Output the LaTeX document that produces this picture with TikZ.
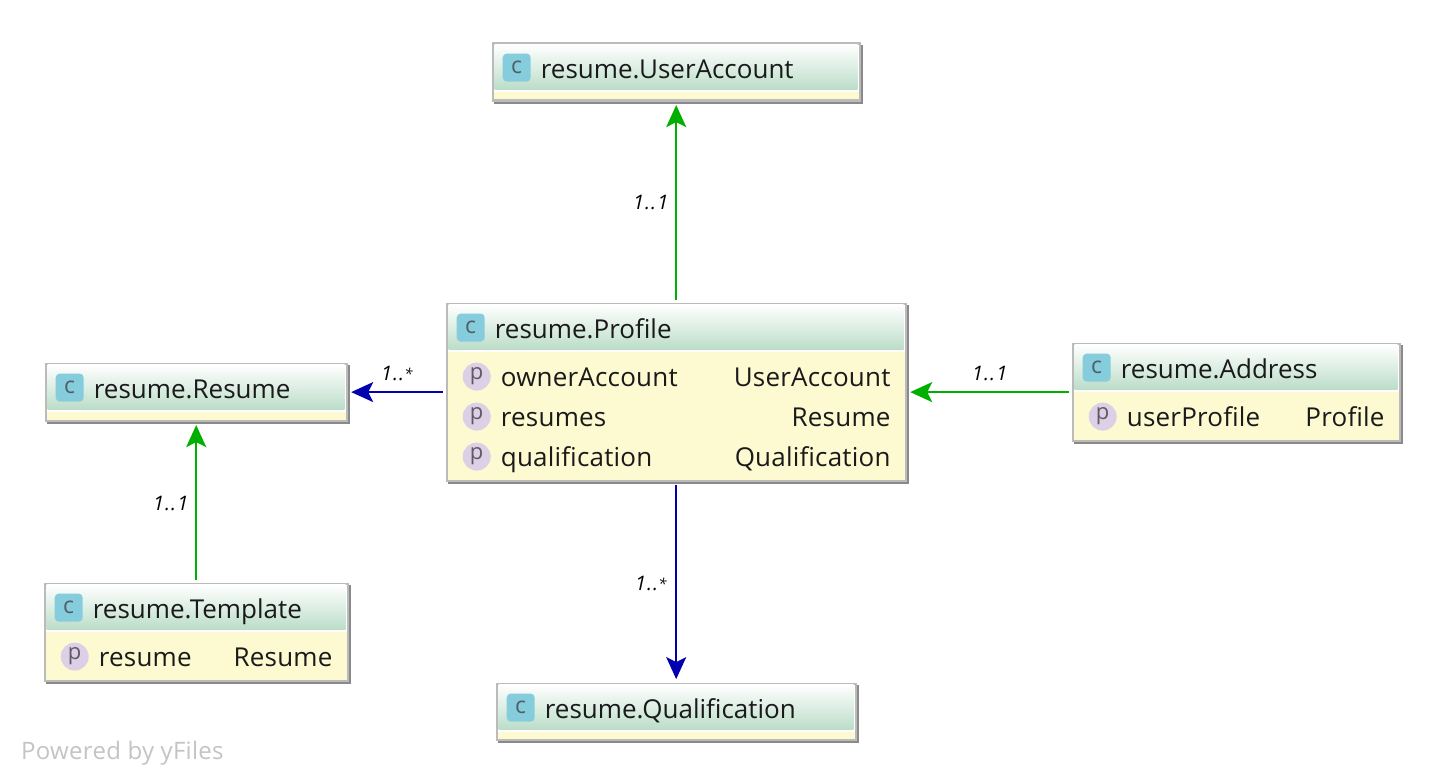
\documentclass[tikz,border=0pt]{standalone}
\usepackage{fontspec}
\setmainfont{Open Sans}
\newfontfamily\rowfont{Open Sans}[LetterSpace=0.8]
\newfontfamily\markfont{Open Sans}[LetterSpace=1.2]
\newfontfamily\multfont{Open Sans}[LetterSpace=5,ItalicFont={Open Sans Italic}]
\usetikzlibrary{arrows.meta}
\definecolor{framegray}{HTML}{BBBBBB}
\definecolor{shadowgray}{HTML}{8A8A8A}
\definecolor{headgreen}{HTML}{BBDDC8}
\definecolor{bodyyellow}{HTML}{FDFAD2}
\definecolor{iconblue}{HTML}{85CDDC}
\definecolor{iconink}{HTML}{4F5F68}
\definecolor{propviolet}{HTML}{DCCFE6}
\definecolor{propink}{HTML}{5E5A66}
\definecolor{textink}{HTML}{1A1A1A}
\definecolor{assocgreen}{HTML}{00B000}
\definecolor{assocblue}{HTML}{0000B0}
\definecolor{markgray}{HTML}{C4C4C4}
\tikzset{
  framebox/.style={draw=framegray,line width=2.2pt,inner sep=0pt,outer sep=0pt},
  titletext/.style={font=\fontsize{26}{26}\selectfont,text=textink,anchor=base west,inner sep=0pt},
  rowtext/.style={font=\rowfont\fontsize{26}{26}\selectfont,text=textink,anchor=base west,inner sep=0pt},
  typetext/.style={font=\rowfont\fontsize{26}{26}\selectfont,text=textink,anchor=base east,inner sep=0pt},
  classicon/.style={fill=iconblue,rounded corners=4pt,minimum size=28pt,inner sep=0pt,text=iconink,font=\fontsize{23}{23}\selectfont},
  propicon/.style={circle,fill=propviolet,minimum size=28pt,inner sep=0pt,text=propink,font=\fontsize{22}{22}\selectfont},
  greenlink/.style={draw=assocgreen,line width=2pt,-{Stealth[length=22pt,width=20pt,inset=5pt]},shorten <=4pt,shorten >=4.5pt},
  bluelink/.style={draw=assocblue,line width=2pt,-{Stealth[length=22pt,width=20pt,inset=5pt]},shorten <=4pt,shorten >=4.5pt},
  multlabel/.style={font=\multfont\fontsize{20}{20}\selectfont\itshape,text=black,inner sep=0pt,anchor=base west},
}
% name, x1, y1, x2, y2, title
\newcommand{\umlbox}[6]{%
  \pgfmathsetmacro{\bw}{#4-#2-2}%
  \pgfmathsetmacro{\bh}{#5-#3-2}%
  \pgfmathsetmacro{\cx}{(#2+#4)/2}%
  \pgfmathsetmacro{\cy}{(#3+#5)/2}%
  \fill[shadowgray] (#2+2,#3+2) rectangle (#4+2,#5+2);
  \node[framebox,fill=bodyyellow,minimum width=\bw pt,minimum height=\bh pt] (#1) at (\cx,\cy) {};
  \fill[white] (#2+2,#3+2) rectangle (#4-2,#3+49);
  \shade[top color=white,bottom color=headgreen] (#2+3,#3+2) rectangle (#4-3,#3+47);
  \node[classicon] (#1-icon) at (#2+25,#3+25) {c};
  \node[titletext] (#1-title) at (#2+49,#3+36) {#6};
}
% box name, row id, x1, x2, row centre y, property, type
\newcommand{\umlrow}[7]{%
  \node[propicon] (#1-#2-icon) at (#3+31,#5) {p};
  \node[rowtext] (#1-#2-name) at (#3+55,#5+9.5) {#6};
  \node[typetext] (#1-#2-type) at (#4-16,#5+9.5) {#7};
}
\begin{document}
\begin{tikzpicture}[x=1pt,y=-1pt]
\useasboundingbox (0,0) rectangle (1444,784);
\fill[white] (0,0) rectangle (1444,784);

\begin{scope}[shift={(-0.3,-0.4)}]
\umlbox{useraccount}{492}{43}{861}{102}{resume.UserAccount}
\umlbox{profile}{446}{303}{907}{482}{resume.Profile}
\umlrow{profile}{a}{446}{907}{377}{ownerAccount}{UserAccount}
\umlrow{profile}{b}{446}{907}{417}{resumes}{Resume}
\umlrow{profile}{c}{446}{907}{457}{qualification}{Qualification}
\umlbox{resume}{45}{363}{348}{422}{resume.Resume}
\umlbox{address}{1072}{343}{1401}{442}{resume.Address}
\umlrow{address}{a}{1072}{1401}{417}{userProfile}{Profile}
\umlbox{template}{44}{583}{349}{682}{resume.Template}
\umlrow{template}{a}{44}{349}{657}{resume}{Resume}
\umlbox{qualification}{496}{683}{857}{741}{resume.Qualification}

\draw[greenlink] (profile.north) -- (useraccount.south);
\draw[greenlink] (address.west) -- (profile.east);
\draw[greenlink] (template.north) -- (resume.south);
\draw[bluelink] (profile.west) -- (resume.east);
\draw[bluelink] (profile.south) -- (qualification.north);
\end{scope}

\node[multlabel] (lua) at (633,209) {1..1};
\node[multlabel] (lre) at (381,380) {1..{\raisebox{1pt}{\fontsize{15}{15}\selectfont *}}};
\node[multlabel] (lad) at (972,380) {1..1};
\node[multlabel] (lte) at (153,510) {1..1};
\node[multlabel] (lqu) at (635,590) {1..{\raisebox{1pt}{\fontsize{15}{15}\selectfont *}}};
\node[font=\markfont\fontsize{24}{24}\selectfont,text=markgray,anchor=base west,inner sep=0pt] (mark) at (21,759) {Powered by yFiles};
\end{tikzpicture}
\end{document}
